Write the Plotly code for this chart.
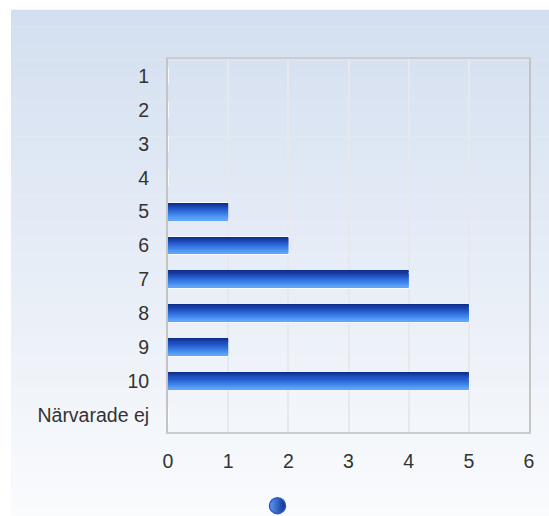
import plotly.graph_objects as go

categories = ["1", "2", "3", "4", "5", "6", "7", "8", "9", "10", "Närvarade ej"]
values = [0, 0, 0, 0, 1, 2, 4, 5, 1, 5, 0]
x_ticks = [0, 1, 2, 3, 4, 5, 6]

W, H = 549, 516
ML, MR, MT, MB = 168, 20, 59, 84
PW, PH = W - ML - MR, H - MT - MB

def hex2rgb(h):
    h = h.lstrip('#')
    return [int(h[i:i+2], 16) for i in (0, 2, 4)]

def lerp(c1, c2, t):
    a, b = hex2rgb(c1), hex2rgb(c2)
    return 'rgb(%d,%d,%d)' % tuple(round(a[i] + (b[i] - a[i]) * t) for i in range(3))

fig = go.Figure()

bar_w = 0.5
# base bar with white outline
fig.add_trace(go.Bar(y=categories, x=values, orientation='h', width=bar_w,
                     marker=dict(color='#2a62d0', line=dict(color='white', width=1.5)),
                     showlegend=False, hoverinfo='skip'))

# gradient stripes
N = 16
stops = [(0.0, '#0b2a86'), (0.35, '#2257c8'), (0.7, '#3d82ea'), (1.0, '#64a8fb')]
def grad(t):
    for i in range(len(stops) - 1):
        t0, c0 = stops[i]
        t1, c1 = stops[i + 1]
        if t <= t1:
            return lerp(c0, c1, (t - t0) / (t1 - t0))
    return stops[-1][1]

sw = bar_w / N
for k in range(N):
    fig.add_trace(go.Bar(y=categories, x=values, orientation='h',
                         width=sw * 1.05, offset=-bar_w / 2 + k * sw,
                         marker=dict(color=grad((k + 0.5) / N), line=dict(width=0)),
                         showlegend=False, hoverinfo='skip'))

# legend marker
fig.add_trace(go.Scatter(x=[None], y=[None], mode='markers', name='',
                         marker=dict(symbol='circle', size=20, color='#5a9af5',
                                     gradient=dict(type='horizontal', color='#0d2f8c'),
                                     line=dict(width=1.5, color='#2a5cc8')),
                         showlegend=True))

# background gradient (paper area from pixel x=11, y=10)
x0 = (11 - ML) / PW
x1 = (W - ML) / PW
ytop_px, ybot_px = 10, H
S = 60
for i in range(S):
    p0 = ytop_px + (ybot_px - ytop_px) * i / S
    p1 = ytop_px + (ybot_px - ytop_px) * (i + 1) / S
    y0 = 1 - (p0 - MT) / PH
    y1 = 1 - (p1 - MT) / PH
    fig.add_shape(type='rect', xref='paper', yref='paper', x0=x0, x1=x1, y0=y1, y1=y0 + 0.001,
                  fillcolor=lerp('#d3dff0', '#fafbfd', (i + 0.5) / S), line=dict(width=0),
                  layer='below')

fig.update_layout(
    width=W, height=H,
    margin=dict(l=ML, r=MR, t=MT, b=MB, autoexpand=False),
    paper_bgcolor='white', plot_bgcolor='rgba(0,0,0,0)',
    barmode='overlay', bargap=0.5,
    font=dict(family='Liberation Sans, Arial, sans-serif', size=19.5, color='#333333'),
    legend=dict(orientation='h', xref='container', yref='container',
                x=280 / W, xanchor='center',
                y=(H - 506) / H, yanchor='middle', bgcolor='rgba(0,0,0,0)',
                itemsizing='trace'),
    xaxis=dict(range=[0, 6], tickvals=x_ticks, showgrid=True, gridcolor='#e6e8ec', gridwidth=2,
               showline=True, linecolor='#cccccc', linewidth=1.5, mirror=True, zeroline=False,
               ticks='', ticklabelstandoff=11, fixedrange=True),
    yaxis=dict(autorange='reversed', type='category', categoryorder='array', categoryarray=categories,
               showgrid=False, showline=True, linecolor='#c4c4c4', linewidth=2, mirror=True,
               ticks='', ticklabelstandoff=13, fixedrange=True),
)

fig.write_html("out.html", config={'displayModeBar': False},
               post_script="document.body.style.margin='0';document.body.style.overflow='hidden';")
